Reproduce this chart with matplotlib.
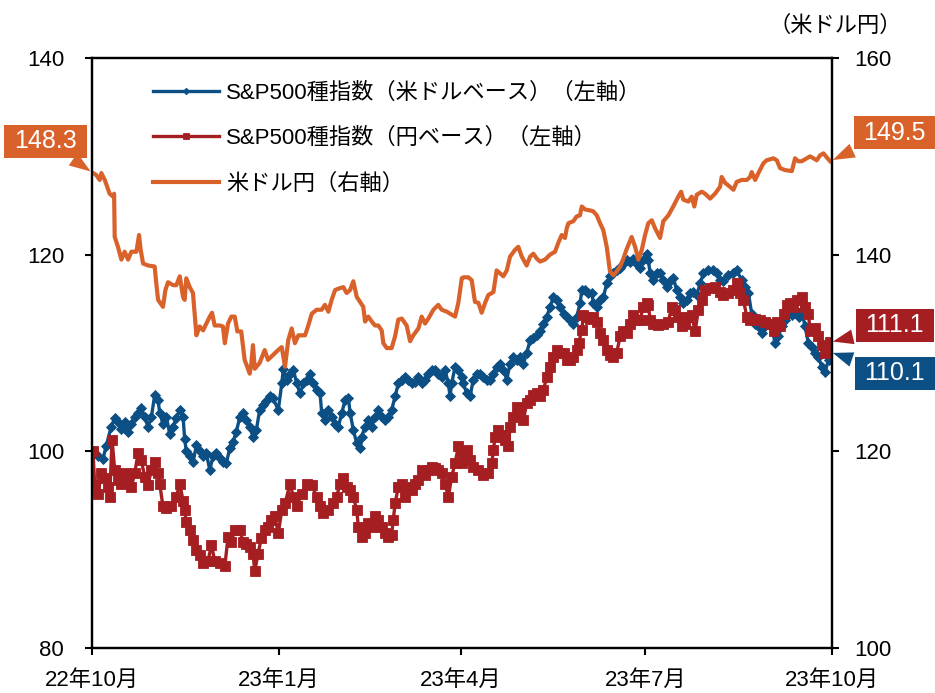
import matplotlib
matplotlib.use("Agg")
import matplotlib.pyplot as plt
import pandas as pd

plt.rcParams["font.family"] = ["Liberation Sans", "Noto Sans CJK JP"]
plt.rcParams["font.size"] = 16

# --- data (day offsets counted from 2022-10-01) ---
usdjpy_days = [
    0.5, 2.1, 3.8, 4.6, 6.3, 8.7, 10.4, 10.9, 11.2, 12.8,
    14.5, 16.1, 17.8, 19.4, 21.9, 23.2, 24.0, 25.2, 27.6, 30.9,
    31.7, 32.6, 35.0, 36.2, 37.5, 40.0, 41.6, 43.3, 44.9, 45.7,
    46.5, 48.2, 49.8, 51.5, 53.1, 54.8, 56.4, 58.1, 59.2, 60.5,
    63.0, 64.6, 65.5, 67.1, 68.7, 70.4, 71.7, 73.6, 75.3, 77.8,
    78.6, 79.4, 80.3, 82.7, 85.2, 86.8, 89.3, 91.8, 93.6, 95.2,
    96.8, 98.5, 100.1, 101.8, 105.1, 106.7, 108.4, 110.8, 113.3, 114.9,
    116.6, 118.2, 119.9, 122.3, 124.0, 125.6, 127.3, 128.9, 130.6, 132.2,
    133.8, 134.7, 136.3, 138.0, 139.6, 141.2, 142.9, 143.7, 145.4, 147.8,
    149.5, 151.1, 152.8, 155.2, 156.9, 158.5, 161.0, 162.6, 164.3, 165.9,
    168.4, 170.8, 172.5, 175.0, 177.4, 179.1, 180.7, 182.4, 183.2, 185.6,
    187.3, 188.9, 190.6, 192.2, 193.9, 195.5, 198.0, 199.6, 201.3, 202.9,
    204.6, 206.2, 208.7, 210.3, 212.0, 214.4, 216.1, 217.7, 219.4, 221.0,
    223.5, 225.9, 228.4, 230.0, 231.7, 233.3, 234.2, 235.0, 237.4, 239.1,
    240.7, 241.6, 243.2, 245.7, 247.3, 249.0, 250.6, 252.2, 253.9, 255.5,
    257.2, 258.8, 260.5, 262.1, 263.8, 266.2, 267.9, 269.5, 271.2, 272.8,
    274.4, 276.1, 277.7, 280.2, 281.8, 284.3, 286.7, 289.2, 290.6, 291.7,
    294.2, 295.8, 297.1, 298.3, 300.8, 302.4, 304.9, 307.3, 309.8, 310.6,
    312.3, 314.7, 316.4, 318.0, 320.5, 323.0, 324.6, 325.4, 327.1, 328.7,
    331.2, 332.8, 336.1, 337.8, 339.4, 341.9, 345.2, 346.8, 348.4, 350.1,
    352.6, 354.2, 355.8, 357.5, 359.1, 360.8, 362.4, 364.1,
]
usdjpy = [
    148.3, 148.1, 147.6, 148.3, 147.6, 146.2, 145.9, 146.2, 141.8, 140.8,
    139.5, 140.3, 139.5, 140.3, 140.3, 142.0, 140.5, 139.1, 138.9, 138.8,
    137.1, 135.4, 134.7, 136.4, 137.2, 136.9, 136.9, 137.8, 135.7, 135.4,
    137.6, 136.7, 136.1, 131.8, 132.7, 132.3, 133.0, 133.7, 134.1, 132.8,
    132.8, 132.7, 131.0, 133.0, 133.7, 133.7, 132.2, 132.2, 129.3, 127.9,
    129.0, 130.8, 128.4, 129.0, 130.3, 129.3, 129.8, 130.3, 130.6, 128.6,
    131.3, 132.5, 131.0, 131.8, 131.8, 132.8, 134.0, 134.4, 134.4, 134.9,
    134.2, 135.4, 136.4, 136.6, 136.7, 136.1, 136.4, 137.3, 135.7, 135.2,
    134.7, 133.2, 133.7, 133.2, 132.8, 132.8, 132.3, 131.0, 130.5, 130.5,
    131.7, 133.4, 133.5, 132.8, 131.2, 131.8, 132.5, 133.7, 133.0, 133.5,
    134.4, 134.9, 134.4, 134.2, 133.9, 133.7, 135.1, 137.6, 137.7, 137.7,
    137.4, 135.2, 135.1, 134.1, 135.1, 135.9, 136.2, 138.4, 138.1, 137.8,
    138.4, 139.8, 140.5, 140.8, 139.8, 138.9, 139.8, 140.1, 139.6, 139.3,
    139.5, 140.0, 140.3, 141.2, 142.0, 141.7, 142.7, 143.2, 143.4, 143.9,
    144.0, 144.9, 144.6, 144.5, 144.4, 144.0, 143.2, 142.5, 140.8, 138.3,
    137.9, 138.3, 138.8, 139.6, 140.6, 141.8, 140.8, 139.5, 140.5, 142.0,
    143.2, 143.5, 142.7, 141.7, 143.4, 144.0, 144.9, 145.9, 146.4, 145.6,
    145.4, 145.9, 144.9, 146.1, 146.4, 146.2, 145.7, 146.2, 146.9, 147.9,
    147.3, 146.9, 146.6, 147.4, 147.6, 147.6, 147.9, 148.4, 147.6, 148.3,
    149.3, 149.6, 149.8, 149.6, 148.8, 148.6, 148.5, 149.8, 149.5, 149.5,
    149.8, 150.0, 149.8, 149.6, 150.1, 150.3, 149.9, 149.5,
]

spx_usd_days = [
    0.5, 3.0, 5.4, 6.9, 9.5, 11.2, 12.8, 14.5, 16.1, 17.8,
    19.4, 21.1, 22.7, 24.3, 26.0, 27.6, 29.3, 30.9, 32.6, 33.4,
    35.0, 36.7, 38.3, 40.0, 41.6, 43.3, 44.9, 45.7, 46.5, 48.2,
    49.8, 51.5, 53.1, 54.8, 56.4, 58.1, 59.7, 61.3, 63.0, 64.6,
    66.3, 67.9, 69.6, 71.2, 72.9, 74.5, 76.1, 77.8, 79.4, 81.1,
    82.7, 84.4, 86.0, 87.7, 89.3, 91.9, 93.6, 94.4, 96.0, 97.7,
    99.3, 101.0, 102.6, 104.3, 105.9, 107.5, 109.2, 110.8, 112.5, 113.3,
    114.9, 116.6, 118.2, 119.9, 121.5, 123.2, 124.8, 126.5, 127.3, 128.9,
    130.6, 132.2, 133.0, 134.7, 136.3, 138.0, 139.6, 141.2, 142.9, 144.5,
    146.2, 147.8, 149.5, 151.1, 152.8, 154.4, 156.0, 157.7, 159.3, 161.0,
    162.6, 164.3, 165.9, 167.6, 169.2, 170.8, 172.5, 174.1, 175.8, 176.6,
    177.4, 179.1, 180.7, 182.4, 183.2, 184.8, 186.5, 188.1, 189.8, 191.4,
    193.1, 194.7, 196.4, 198.0, 199.6, 201.3, 202.9, 204.6, 206.2, 207.9,
    209.5, 211.2, 212.8, 214.4, 216.1, 217.7, 219.4, 221.0, 222.7, 224.3,
    226.0, 227.6, 229.3, 230.9, 232.6, 234.2, 235.8, 237.5, 239.1, 240.8,
    241.6, 243.2, 244.9, 246.5, 247.3, 249.0, 250.6, 252.3, 253.9, 255.5,
    257.2, 258.8, 260.5, 262.1, 263.8, 265.4, 267.1, 268.7, 270.3, 272.0,
    273.7, 274.4, 275.3, 276.9, 278.6, 280.2, 281.8, 283.5, 285.1, 286.8,
    288.4, 290.1, 291.7, 293.4, 295.0, 296.7, 298.3, 300.0, 301.6, 304.0,
    306.5, 308.1, 309.8, 311.4, 313.9, 316.4, 318.0, 320.5, 322.1, 323.8,
    325.4, 327.1, 328.7, 330.4, 332.0, 333.6, 335.3, 336.9, 338.6, 340.2,
    341.9, 343.5, 345.2, 346.8, 348.5, 350.1, 351.7, 353.4, 355.0, 356.7,
    358.3, 360.0, 361.6, 363.3, 364.1,
]
spx_usd = [
    100.0, 99.5, 99.2, 100.5, 102.5, 103.4, 103.0, 102.3, 103.0, 102.0,
    102.8, 103.5, 103.9, 104.4, 103.5, 102.5, 103.5, 105.7, 105.2, 103.9,
    102.8, 103.5, 101.8, 102.5, 103.4, 104.2, 103.5, 101.3, 100.0, 99.5,
    98.9, 100.6, 100.0, 99.5, 99.8, 98.1, 99.5, 99.8, 99.3, 98.9,
    98.8, 100.3, 101.0, 102.0, 103.5, 103.9, 103.2, 102.5, 101.5, 102.2,
    104.2, 104.7, 105.1, 105.6, 105.4, 104.2, 106.9, 108.4, 107.3, 107.9,
    108.3, 106.9, 105.9, 106.9, 107.3, 107.9, 106.9, 106.2, 105.9, 103.9,
    103.2, 104.2, 103.5, 102.8, 102.5, 103.9, 105.2, 105.4, 103.9, 102.2,
    100.8, 100.3, 101.5, 102.5, 103.2, 102.5, 103.5, 104.2, 103.5, 103.2,
    103.5, 104.2, 105.6, 106.9, 107.3, 107.6, 107.3, 106.9, 107.1, 107.6,
    106.9, 107.3, 107.9, 108.3, 108.3, 107.9, 107.6, 108.3, 106.9, 105.6,
    106.9, 108.6, 108.3, 107.6, 106.9, 105.9, 105.6, 107.3, 107.9, 107.9,
    107.6, 107.3, 107.3, 107.9, 108.6, 108.9, 108.3, 107.3, 108.9, 109.6,
    109.3, 109.6, 108.9, 110.0, 111.3, 111.5, 111.8, 112.2, 112.9, 113.7,
    114.7, 115.7, 115.4, 114.7, 114.0, 113.7, 113.4, 113.0, 113.7, 115.1,
    116.4, 116.4, 116.1, 116.1, 115.1, 114.7, 115.4, 115.7, 117.1, 117.8,
    118.1, 118.4, 118.6, 119.1, 119.5, 119.3, 119.6, 119.1, 118.6, 119.5,
    120.1, 119.5, 118.1, 117.4, 118.1, 118.1, 117.4, 116.7, 117.3, 117.6,
    116.4, 115.7, 115.1, 115.4, 116.1, 116.2, 115.9, 117.1, 118.1, 118.4,
    118.4, 118.1, 117.4, 117.3, 117.9, 118.1, 118.4, 117.4, 116.7, 116.1,
    114.0, 113.0, 112.7, 112.0, 112.7, 113.2, 112.7, 111.0, 111.7, 112.7,
    113.4, 114.0, 113.9, 114.4, 113.7, 114.4, 112.7, 111.0, 110.6, 110.0,
    109.6, 108.6, 108.1, 109.3, 110.1,
]

spx_jpy_days = [
    0.5, 1.3, 3.0, 4.6, 6.3, 7.9, 8.7, 9.9, 11.2, 12.8,
    14.5, 16.1, 17.8, 19.4, 21.1, 22.7, 24.3, 26.0, 27.6, 29.3,
    30.9, 32.6, 33.4, 35.0, 36.7, 39.1, 41.6, 43.3, 44.9, 45.7,
    46.5, 48.2, 49.8, 51.5, 53.1, 54.8, 57.2, 58.9, 60.5, 63.0,
    65.5, 67.1, 68.7, 70.4, 72.9, 74.5, 76.1, 77.8, 79.4, 80.3,
    81.9, 83.6, 85.2, 86.8, 88.5, 90.1, 91.9, 93.6, 95.2, 97.7,
    99.3, 101.0, 103.4, 105.9, 108.4, 110.8, 112.5, 114.1, 116.6, 119.0,
    120.7, 122.3, 124.0, 125.6, 127.3, 128.9, 130.6, 131.4, 133.0, 134.7,
    136.3, 138.0, 139.6, 141.2, 142.9, 144.5, 146.2, 147.8, 148.6, 149.5,
    151.1, 152.8, 154.4, 156.0, 157.7, 159.3, 161.0, 162.6, 164.3, 165.9,
    167.6, 169.2, 170.8, 172.5, 174.1, 175.8, 177.4, 179.1, 180.7, 182.4,
    183.2, 184.8, 186.5, 188.1, 190.6, 193.1, 195.5, 197.2, 198.0, 198.8,
    200.5, 202.1, 203.8, 205.4, 206.2, 207.9, 209.5, 211.2, 212.8, 214.4,
    216.1, 217.7, 219.4, 221.0, 222.7, 224.3, 226.0, 227.6, 229.3, 230.9,
    232.6, 234.2, 235.8, 237.5, 239.1, 240.0, 241.6, 242.4, 244.1, 245.7,
    247.3, 249.0, 250.6, 252.3, 253.9, 255.5, 257.2, 258.8, 260.5, 262.1,
    263.8, 265.4, 267.1, 268.7, 270.3, 272.0, 273.7, 274.4, 275.3, 276.9,
    279.4, 281.8, 284.3, 286.0, 287.6, 289.2, 290.9, 292.5, 294.2, 295.8,
    297.5, 299.1, 300.8, 302.4, 304.9, 307.3, 309.8, 311.4, 313.9, 316.4,
    318.0, 319.7, 321.3, 323.0, 324.6, 327.1, 329.6, 332.0, 334.5, 336.2,
    337.8, 339.4, 341.1, 342.7, 344.4, 346.0, 347.7, 350.1, 351.7, 353.4,
    354.2, 356.7, 358.3, 360.0, 361.6, 363.3, 364.1,
]
spx_jpy = [
    100.0, 96.7, 95.7, 97.8, 97.3, 96.4, 95.4, 101.2, 98.1, 97.1,
    96.7, 97.8, 96.9, 96.4, 97.8, 99.8, 99.1, 97.4, 96.6, 98.1,
    98.9, 97.8, 96.7, 94.4, 94.2, 94.4, 95.4, 96.7, 95.0, 94.0,
    92.8, 92.0, 91.0, 90.0, 89.5, 88.6, 88.8, 90.5, 88.9, 88.6,
    88.3, 91.3, 90.8, 92.0, 92.0, 90.8, 90.6, 90.3, 89.6, 87.8,
    89.6, 91.2, 92.0, 92.3, 93.0, 93.4, 91.7, 94.0, 94.7, 96.7,
    95.4, 94.4, 95.7, 96.7, 96.6, 95.4, 94.4, 93.7, 94.0, 94.7,
    95.4, 96.7, 97.3, 96.4, 96.1, 95.4, 94.0, 92.3, 91.3, 91.7,
    92.7, 92.3, 93.4, 93.0, 92.3, 91.7, 91.3, 91.5, 93.0, 94.7,
    96.4, 96.7, 95.4, 96.4, 96.1, 96.7, 97.1, 98.1, 97.6, 98.1,
    98.4, 98.3, 98.1, 97.8, 96.7, 95.4, 97.4, 98.8, 100.5, 98.8,
    99.5, 100.1, 99.1, 98.4, 98.1, 97.6, 97.8, 98.8, 100.1, 101.5,
    102.2, 101.7, 101.2, 100.5, 102.5, 103.5, 104.5, 103.9, 103.2, 104.9,
    105.2, 105.7, 105.9, 105.6, 106.2, 107.6, 108.6, 109.6, 110.3, 110.0,
    110.0, 109.3, 109.3, 109.6, 110.3, 111.0, 112.3, 113.9, 113.7, 113.5,
    113.7, 113.2, 112.0, 111.3, 110.3, 109.8, 109.6, 110.0, 111.7, 112.2,
    112.0, 113.0, 113.9, 113.4, 113.4, 114.7, 115.1, 114.9, 113.4, 113.0,
    112.8, 113.0, 113.2, 114.7, 114.4, 113.7, 112.7, 112.9, 113.7, 113.9,
    112.2, 114.4, 115.4, 116.4, 116.6, 116.7, 116.2, 115.9, 116.1, 116.4,
    117.1, 116.1, 115.4, 113.7, 113.4, 113.5, 113.4, 113.2, 112.9, 112.2,
    113.2, 112.7, 114.0, 114.9, 115.1, 114.7, 115.4, 115.7, 114.7, 114.0,
    112.2, 112.5, 111.7, 110.8, 110.0, 110.3, 111.1,
]

tick_dates = ["2022-10-01", "2023-01-01", "2023-04-01", "2023-07-01", "2023-10-01"]
tick_labels = ["22年10月", "23年1月", "23年4月", "23年7月", "23年10月"]
series_labels = [
    "S&P500種指数（米ドルベース）（左軸）",
    "S&P500種指数（円ベース）（左軸）",
    "米ドル円（右軸）",
]

BLUE = "#0b4f84"
RED = "#a51e22"
ORANGE = "#d9622b"
START = pd.Timestamp("2022-10-01")


def to_dates(days):
    return START + pd.to_timedelta(days, unit="D")


fig = plt.figure(figsize=(9.35, 6.93), dpi=100)
ax = fig.add_axes([0.0984, 0.0649, 0.7914, 0.8514])
ax2 = ax.twinx()

ax.plot(to_dates(spx_usd_days), spx_usd, color=BLUE, lw=2.4,
        marker="D", ms=5.5, mec=BLUE, mew=0.6, label=series_labels[0])
ax.plot(to_dates(spx_jpy_days), spx_jpy, color=RED, lw=2.4,
        marker="s", ms=7.5, mec=RED, mew=0.6, label=series_labels[1])
ax2.plot(to_dates(usdjpy_days), usdjpy, color=ORANGE, lw=3.0,
         label=series_labels[2])

ax.set_xlim(START, pd.Timestamp("2023-10-01"))
ax.set_ylim(80, 140)
ax2.set_ylim(100, 160)
ax.set_yticks([80, 100, 120, 140])
ax2.set_yticks([100, 120, 140, 160])
ax.set_xticks(pd.to_datetime(tick_dates))
ax.set_xticklabels(tick_labels)

for a in (ax, ax2):
    for sp in a.spines.values():
        sp.set_linewidth(1.6)
        sp.set_color("black")
ax.tick_params(axis="y", direction="out", length=5, width=1.5, pad=15, labelsize=16)
ax.tick_params(axis="x", direction="out", length=5, width=1.5, pad=11, labelsize=16)
ax2.tick_params(axis="y", direction="out", length=5, width=1.5, pad=11, labelsize=16)

ax2.text(1.005, 1.054, "（米ドル円）", transform=ax2.transAxes,
         ha="center", va="center", fontsize=16)

h1, l1 = ax.get_legend_handles_labels()
h2, l2 = ax2.get_legend_handles_labels()
ax2.legend(h1 + h2, l1 + l2, loc="upper left", bbox_to_anchor=(0.07, 0.974),
           frameon=False, handlelength=3.0, handletextpad=0.3,
           labelspacing=1.1, borderaxespad=0, fontsize=16, markerscale=0.6)


def callout(axis, x, y, text, color, pos, relpos):
    axis.annotate(text, xy=(x, y), xytext=pos, textcoords="axes fraction",
                  ha="center", va="center", color="white", fontsize=18,
                  bbox=dict(boxstyle="square,pad=0.4", mutation_aspect=0.45,
                            fc=color, ec="none"),
                  arrowprops=dict(arrowstyle="wedge,tail_width=0.6,shrink_factor=0.5",
                                  fc=color, ec="none", relpos=relpos),
                  annotation_clip=False)


callout(ax2, to_dates([usdjpy_days[0]])[0], usdjpy[0], f"{usdjpy[0]:.1f}",
        ORANGE, (-0.063, 0.859), (0.8, 0.0))
callout(ax2, to_dates([usdjpy_days[-1]])[0], usdjpy[-1], f"{usdjpy[-1]:.1f}",
        ORANGE, (1.085, 0.873), (0.1, 0.1))
callout(ax, to_dates([spx_jpy_days[-1]])[0], spx_jpy[-1], f"{spx_jpy[-1]:.1f}",
        RED, (1.085, 0.547), (0.1, 0.2))
callout(ax, to_dates([spx_usd_days[-1]])[0], spx_usd[-1], f"{spx_usd[-1]:.1f}",
        BLUE, (1.085, 0.466), (0.1, 0.8))

fig.savefig("out.png", dpi=100)
